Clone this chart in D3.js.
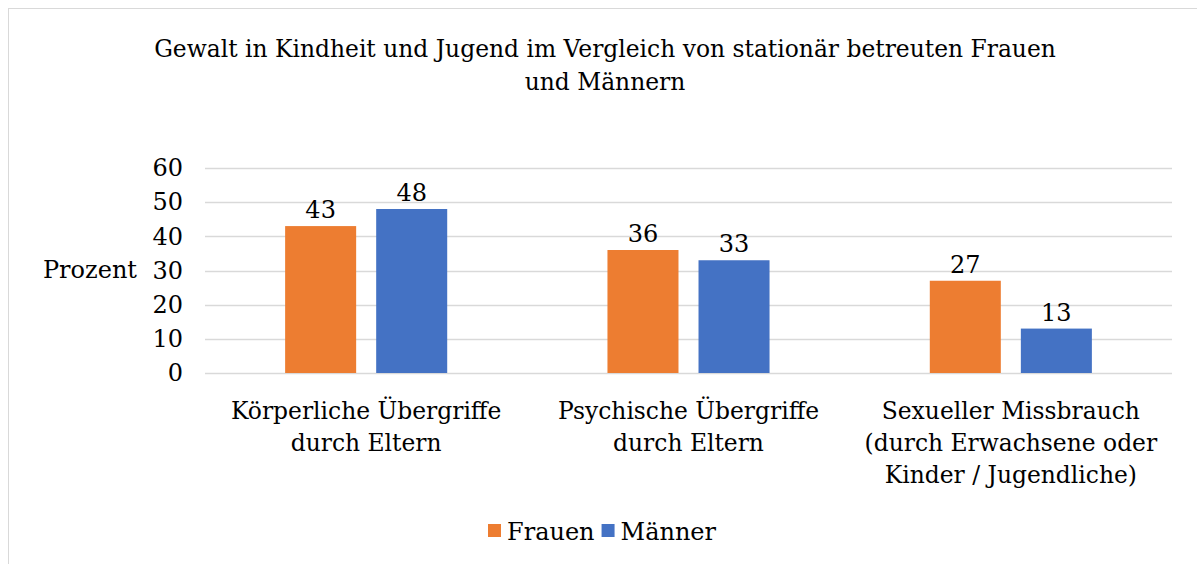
<!DOCTYPE html>
<html>
<head>
<meta charset="utf-8">
<script src="https://cdn.jsdelivr.net/npm/d3@7"></script>
<style>
  body { margin: 0; background: #fff; }
  svg { display: block; font-family: "DejaVu Serif", serif; }
</style>
</head>
<body>
<svg id="chart" width="1197" height="564"></svg>
<script>
// Chart data
const categories = [
    ['Körperliche Übergriffe', 'durch Eltern'],
    ['Psychische Übergriffe', 'durch Eltern'],
    ['Sexueller Missbrauch', '(durch Erwachsene oder', 'Kinder / Jugendliche)']
];
const seriesNames = ['Frauen', 'Männer'];
const frauen = [43, 36, 27];
const maenner = [48, 33, 13];
const yTicks = [0, 10, 20, 30, 40, 50, 60];
const titleLines = ['Gewalt in Kindheit und Jugend im Vergleich von stationär betreuten Frauen', 'und Männern'];

const colors = ['#ED7D31', '#4472C4'];
const W = 1197, H = 564;
const plot = { left: 205, right: 1172, top: 168, bottom: 373 };
const fontSize = 24;

const svg = d3.select('#chart');

// outer chart border
svg.append('rect')
    .attr('x', 8.5).attr('y', 8.5)
    .attr('width', W + 10).attr('height', H + 10)
    .attr('fill', '#fff')
    .attr('stroke', '#d9d9d9')
    .attr('stroke-width', 1);

// title
svg.append('text')
    .attr('x', 605).attr('y', 57)
    .attr('text-anchor', 'middle')
    .attr('font-size', 23.4)
    .attr('fill', '#000')
    .selectAll('tspan')
    .data(titleLines)
    .join('tspan')
    .attr('x', 605)
    .attr('dy', (d, i) => i === 0 ? 0 : 33)
    .text(d => d);

const y = d3.scaleLinear().domain([0, 60]).range([plot.bottom, plot.top]);
const x0 = d3.scaleBand()
    .domain(d3.range(categories.length))
    .range([plot.left, plot.right])
    .padding(0);
const x1 = d3.scaleBand()
    .domain(seriesNames)
    .range([0, x0.bandwidth()])
    .paddingInner(0.22)
    .paddingOuter(0.88);

// gridlines
svg.append('g')
    .selectAll('line')
    .data(yTicks)
    .join('line')
    .attr('x1', plot.left).attr('x2', plot.right)
    .attr('y1', d => Math.round(y(d)) + 0.5)
    .attr('y2', d => Math.round(y(d)) + 0.5)
    .attr('stroke', '#d9d9d9')
    .attr('stroke-width', 1.5);

// y axis labels
const yAxis = d3.axisLeft(y).tickValues(yTicks).tickSize(0).tickPadding(0);
const yG = svg.append('g')
    .attr('transform', `translate(${plot.left - 22},0)`)
    .call(yAxis);
yG.select('.domain').remove();
yG.selectAll('text')
    .attr('font-family', '"DejaVu Serif", serif')
    .attr('font-size', fontSize)
    .attr('fill', '#000');

// y axis title
svg.append('text')
    .attr('x', 137).attr('y', y(30))
    .attr('dy', '0.32em')
    .attr('text-anchor', 'end')
    .attr('font-size', fontSize)
    .text('Prozent');

// bars
const rows = categories.map((c, i) => ({ i, values: [frauen[i], maenner[i]] }));
const groups = svg.append('g')
    .selectAll('g')
    .data(rows)
    .join('g')
    .attr('transform', d => `translate(${x0(d.i)},0)`);

groups.selectAll('rect')
    .data(d => d.values.map((v, k) => ({ name: seriesNames[k], v, k })))
    .join('rect')
    .attr('x', d => x1(d.name))
    .attr('y', d => y(d.v))
    .attr('width', x1.bandwidth())
    .attr('height', d => y(0) - y(d.v))
    .attr('fill', d => colors[d.k]);

groups.selectAll('text.val')
    .data(d => d.values.map((v, k) => ({ name: seriesNames[k], v, k })))
    .join('text')
    .attr('class', 'val')
    .attr('x', d => x1(d.name) + x1.bandwidth() / 2)
    .attr('y', d => y(d.v) - 8)
    .attr('text-anchor', 'middle')
    .attr('font-size', fontSize)
    .text(d => d.v);

// category labels
svg.append('g')
    .selectAll('text')
    .data(categories)
    .join('text')
    .attr('text-anchor', 'middle')
    .attr('font-size', 23.4)
    .attr('transform', (d, i) => `translate(${x0(i) + x0.bandwidth() / 2},${plot.bottom + 46})`)
    .selectAll('tspan')
    .data(d => d)
    .join('tspan')
    .attr('x', 0)
    .attr('dy', (d, i) => i === 0 ? 0 : 32)
    .text(d => d);

// legend
const legend = svg.append('g').attr('transform', 'translate(488,540)');
let lx = 0;
seriesNames.forEach((name, k) => {
    legend.append('rect')
        .attr('x', lx).attr('y', -16)
        .attr('width', 13).attr('height', 13)
        .attr('fill', colors[k]);
    const t = legend.append('text')
        .attr('x', lx + 19).attr('y', 0)
        .attr('font-size', fontSize)
        .text(name);
    lx += 19 + t.node().getComputedTextLength() + 7;
});
</script>
</body>
</html>
